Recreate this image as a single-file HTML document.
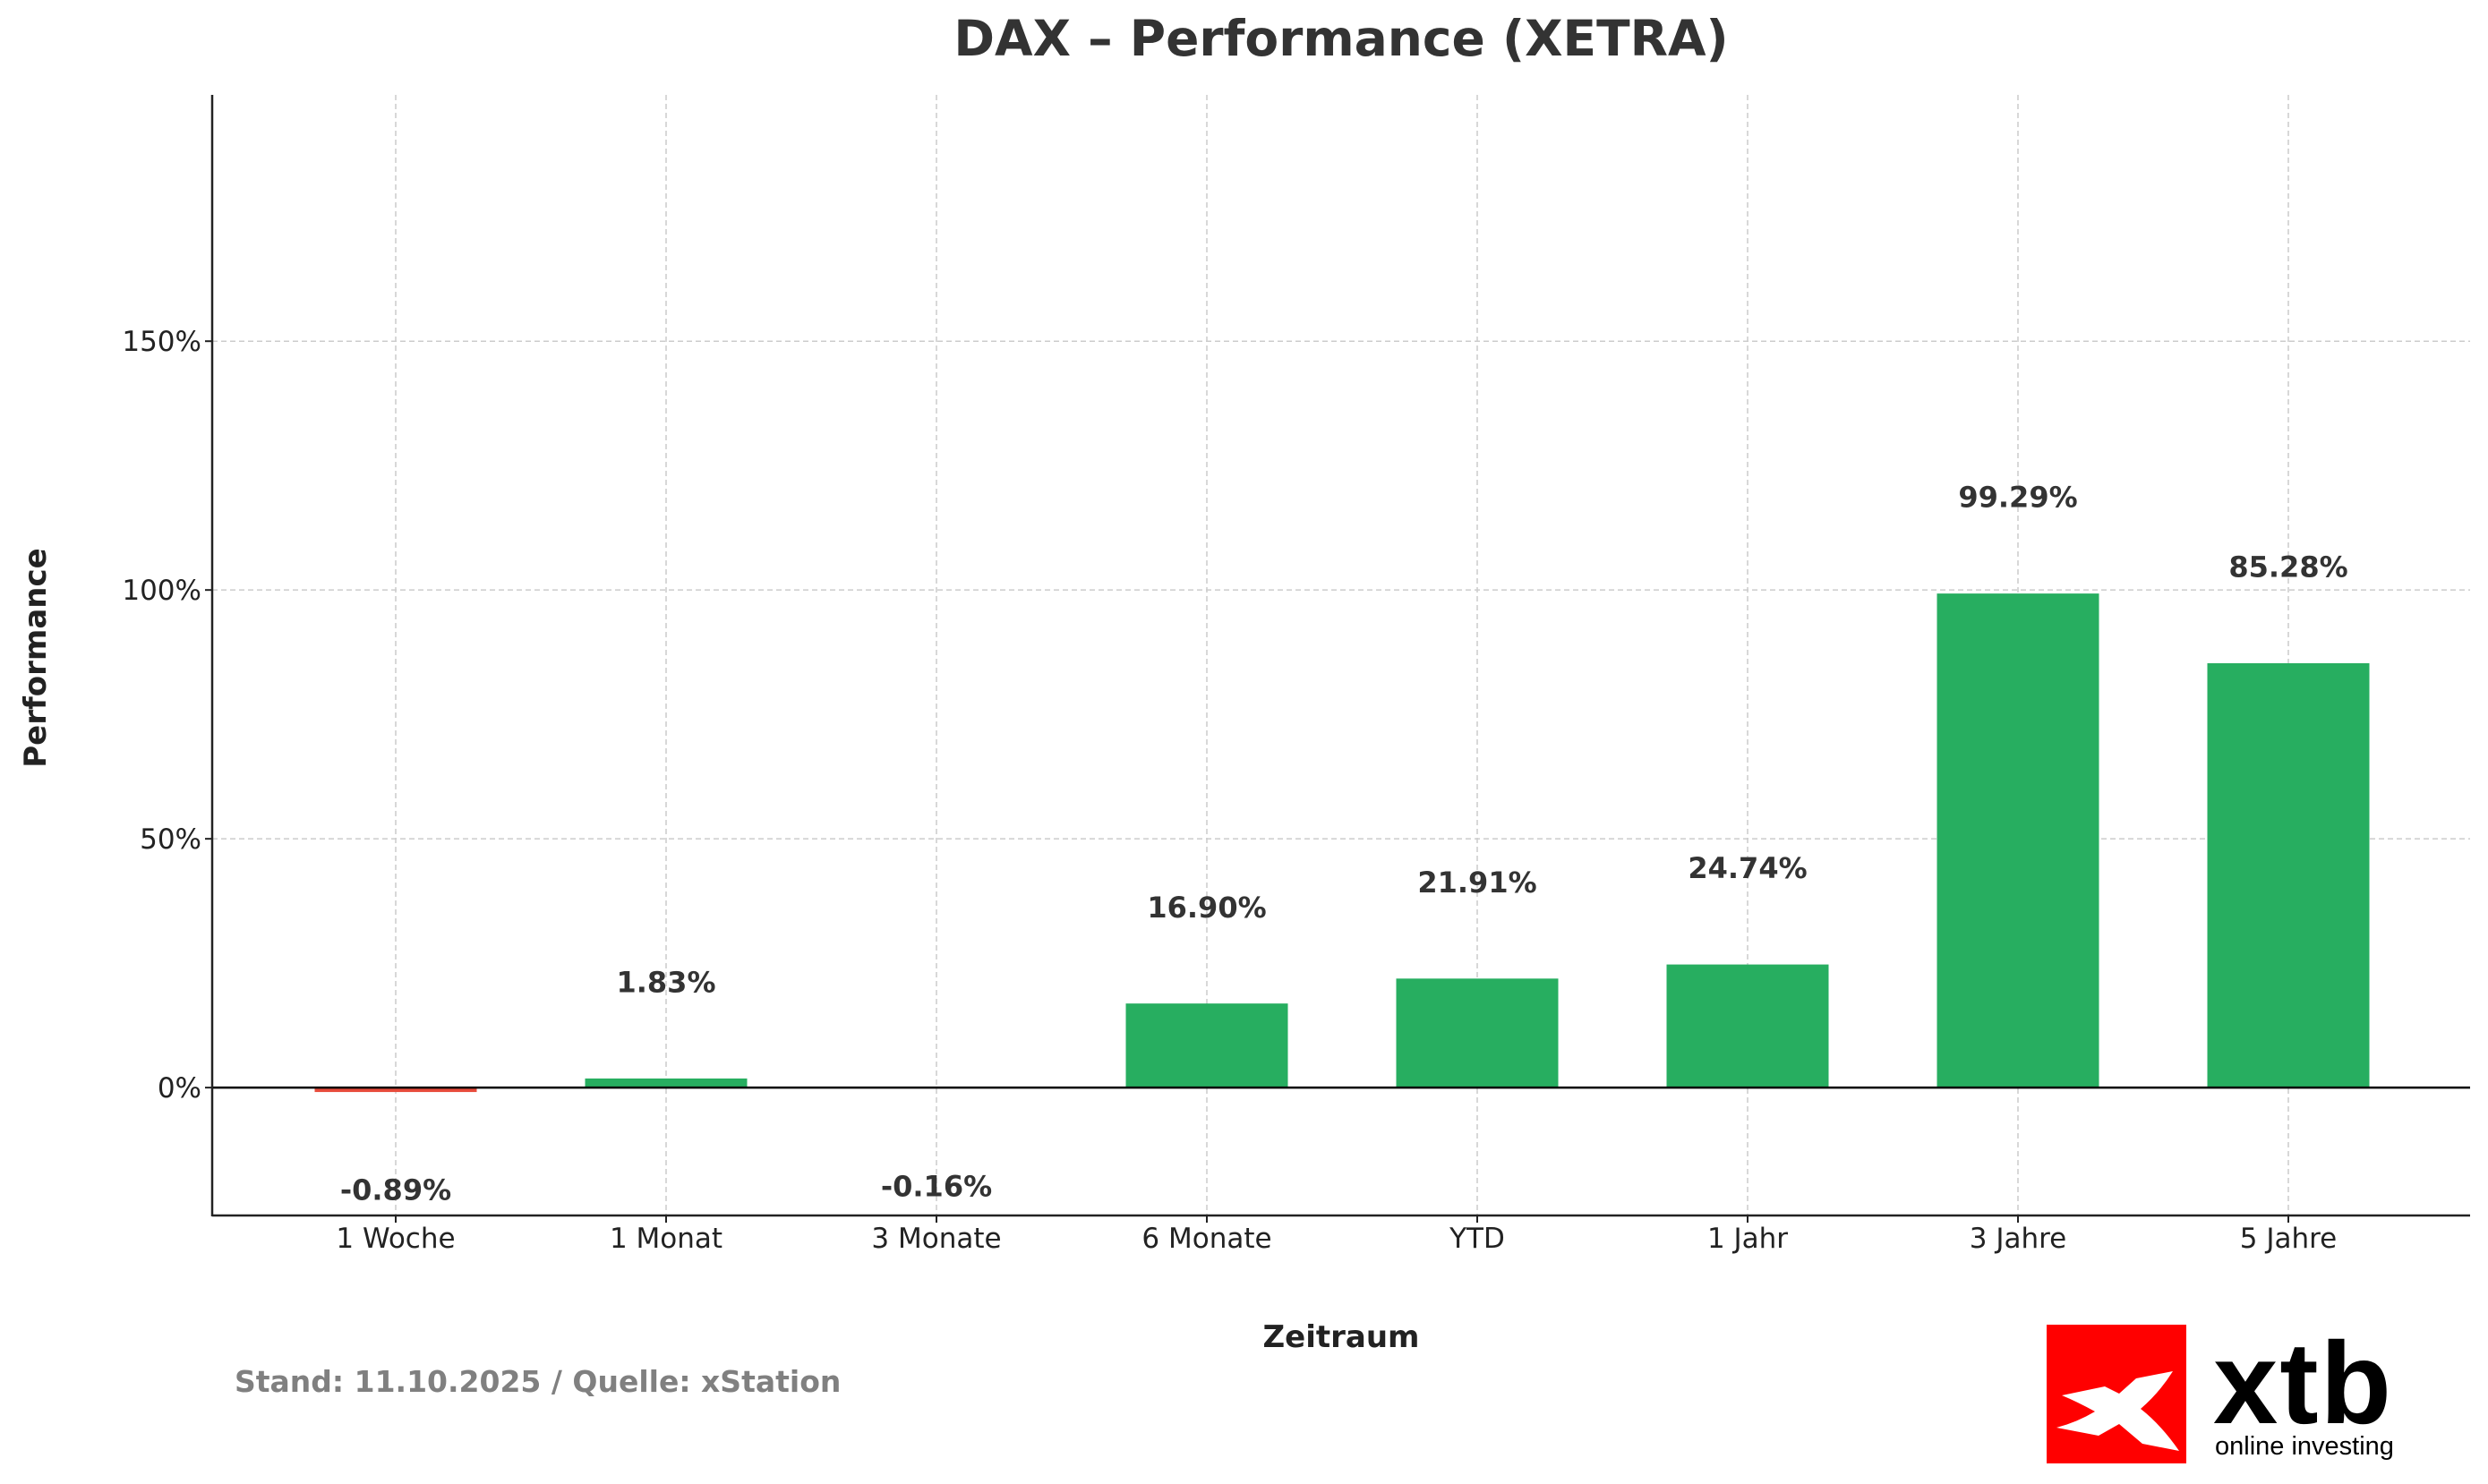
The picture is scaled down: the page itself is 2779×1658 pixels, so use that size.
<!DOCTYPE html>
<html><head><meta charset="utf-8"><style>
html,body{margin:0;padding:0;background:#fff;}
svg{display:block;font-family:"DejaVu Sans","Liberation Sans",sans-serif;}
</style></head><body>
<svg id="chart" width="2779" height="1658" viewBox="0 0 2779 1658" xmlns="http://www.w3.org/2000/svg">
<text x="1498" y="62" text-anchor="middle" font-size="55" font-weight="bold" fill="#333">DAX – Performance (XETRA)</text>
<g id="grid"></g>
<g id="bars"></g>
<g id="labels"></g>
<g id="axes"></g>
<text x="1498" y="1505" text-anchor="middle" font-size="34" font-weight="bold" fill="#222">Zeitraum</text>
<text transform="translate(51,735) rotate(-90)" text-anchor="middle" font-size="34" font-weight="bold" fill="#222">Performance</text>
<text x="262" y="1555" font-size="33" font-weight="bold" fill="#808080">Stand: 11.10.2025 / Quelle: xStation</text>
<g>
<rect x="2286" y="1480" width="156" height="155" fill="#ff0000"/>
<path d="M2303,1559 L2351,1549 L2367,1557 L2386,1540 L2427,1532 Q2412,1556 2391,1574 Q2414,1592 2434,1621 L2393,1613 L2367,1591 L2344,1604 L2297,1595 Q2320,1589 2340,1577 Q2320,1566 2303,1559 Z" fill="#fff"/>
<text x="2472" y="1590" font-family="Liberation Sans, sans-serif" font-size="130" font-weight="bold" fill="#000" letter-spacing="2">xtb</text>
<text x="2474" y="1625" font-family="Liberation Sans, sans-serif" font-size="29" fill="#000">online investing</text>
</g>
</svg>
<script>
const categories = ["1 Woche","1 Monat","3 Monate","6 Monate","YTD","1 Jahr","3 Jahre","5 Jahre"];
const values = [-0.89, 1.83, -0.16, 16.90, 21.91, 24.74, 99.29, 85.28];
const valueLabels = ["-0.89%","1.83%","-0.16%","16.90%","21.91%","24.74%","99.29%","85.28%"];
const yTicks = [0, 50, 100, 150];
const yTickLabels = ["0%","50%","100%","150%"];

const NS = "http://www.w3.org/2000/svg";
const L = 237, R = 2759, T = 106, B = 1358;
const yMin = -25.7, yMax = 199.5;
function yS(v){ return B - (v - yMin) / (yMax - yMin) * (B - T); }
function xS(i){ return 442 + i * 302; }
const bw = 181;
function mk(tag, attrs, parent){
  const e = document.createElementNS(NS, tag);
  for (const k in attrs) e.setAttribute(k, attrs[k]);
  parent.appendChild(e); return e;
}
const grid = document.getElementById('grid');
const bars = document.getElementById('bars');
const labels = document.getElementById('labels');
const axes = document.getElementById('axes');

yTicks.forEach((t, i) => {
  if (t !== 0) {
    const g = mk('line', {x1:L, x2:R, y1:yS(t), y2:yS(t), stroke:'#cccccc', 'stroke-width':1.5, 'stroke-dasharray':'6,4'}, grid);
    
    
  }
  const tk = mk('line', {x1:L-8, x2:L, y1:yS(t), y2:yS(t), stroke:'#222', 'stroke-width':2}, axes);
  
  
  const tl = mk('text', {x:L-12, y:yS(t)+11, 'text-anchor':'end', 'font-size':31, fill:'#222'}, axes);
  tl.textContent = yTickLabels[i];
  
  
});
categories.forEach((c, i) => {
  const g = mk('line', {x1:xS(i), x2:xS(i), y1:T, y2:B, stroke:'#cccccc', 'stroke-width':1.5, 'stroke-dasharray':'6,4'}, grid);
  
  
  const v = values[i];
  const y0 = yS(0), y1 = yS(v);
  const r = mk('rect', {x:xS(i)-bw/2, y:Math.min(y0,y1), width:bw, height:Math.max(Math.abs(y1-y0),0.5), fill: v >= 0 ? '#27ae60' : '#e74c3c'}, bars);
  
  
  const ly = yS(v >= 0 ? v + 19.5 : v - 19.5);
  const t = mk('text', {x:xS(i), y:ly+12, 'text-anchor':'middle', 'font-size':32, 'font-weight':'bold', fill:'#333'}, labels);
  t.textContent = valueLabels[i];
  
  
  const tk = mk('line', {x1:xS(i), x2:xS(i), y1:B, y2:B+8, stroke:'#222', 'stroke-width':2}, axes);
  
  
  const xl = mk('text', {x:xS(i), y:B+36, 'text-anchor':'middle', 'font-size':31, fill:'#222'}, axes);
  xl.textContent = c;
  
  
});
const zl = mk('line', {x1:L, x2:R, y1:yS(0), y2:yS(0), stroke:'#000', 'stroke-width':2.5}, axes);


const la = mk('line', {x1:L, x2:L, y1:T, y2:B+1, stroke:'#222', 'stroke-width':2.5}, axes);


const ba = mk('line', {x1:L, x2:R, y1:B, y2:B, stroke:'#222', 'stroke-width':2.5}, axes);


</script>
</body></html>
